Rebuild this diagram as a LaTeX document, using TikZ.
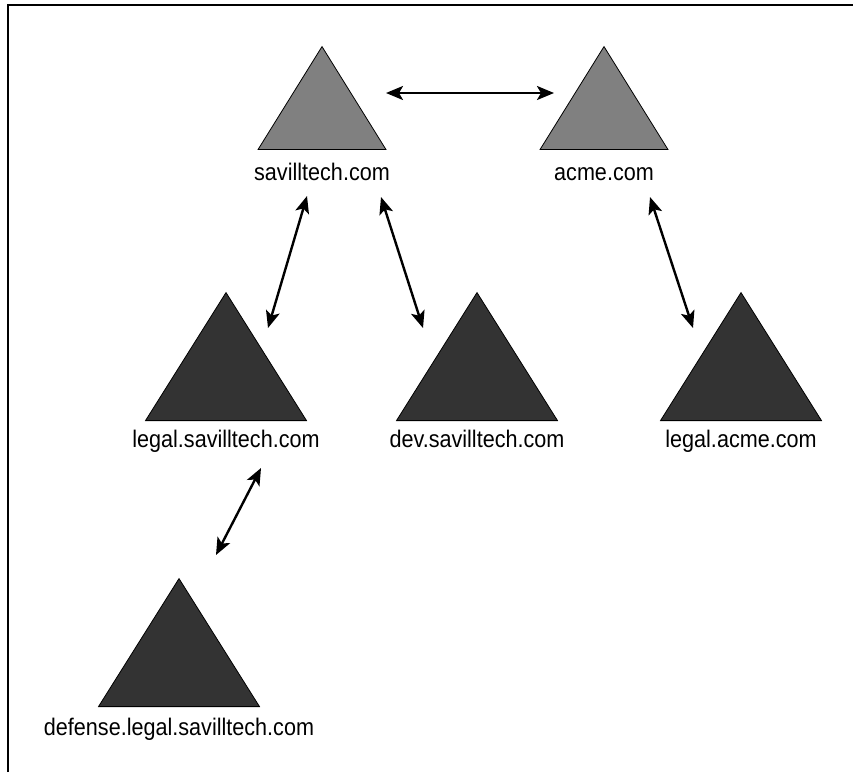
\documentclass[tikz,border=0pt]{standalone}
\usepackage{fontspec}
\setmainfont{Liberation Sans}[FakeStretch=0.9]
\usepackage{tikz}
\usetikzlibrary{calc, arrows.meta, positioning, shapes.geometric}

\tikzset{
  dombox/.style={isosceles triangle, isosceles triangle stretches, shape border rotate=90,
    draw=black, line width=0.8pt, inner sep=0pt, anchor=south},
  rootdom/.style={dombox, fill=black!50, minimum width=128pt, minimum height=103pt},
  childdom/.style={dombox, fill=black!80, minimum width=161pt, minimum height=128pt},
  dname/.style={inner sep=0pt, text height=17pt, text depth=5pt, font=\fontsize{24pt}{26pt}\selectfont},
  trust/.style={{Stealth[length=17pt, width=14pt, inset=4pt]}-{Stealth[length=17pt, width=14pt, inset=4pt]}, line width=2.4pt}
}

\begin{document}
\begin{tikzpicture}[x=1pt, y=-1pt]

\useasboundingbox (0,0) rectangle (853,772);

% Draw the frame
\draw[line width=1.5pt] (8,772) -- (8,5) -- (853,5);

% Draw the domains
\node[rootdom] (sav) at (322,150) {};
\node[rootdom] (acme) at (604,150) {};
\node[childdom] (legal) at (226,421) {};
\node[childdom] (dev) at (477,421) {};
\node[childdom] (lacme) at (741,421) {};
\node[childdom] (def) at (179,707) {};

% Add the domain names
\node[dname, below=13pt of sav] (savtxt) {savilltech.com};
\node[dname, below=13pt of acme] (acmetxt) {acme.com};
\node[dname, below=9pt of legal] (legaltxt) {legal.savilltech.com};
\node[dname, below=9pt of dev] (devtxt) {dev.savilltech.com};
\node[dname, below=9pt of lacme] (lacmetxt) {legal.acme.com};
\node[dname, below=11pt of def] (deftxt) {defense.legal.savilltech.com};

% Ends of the trusts
\coordinate (savE) at (386,93);
\coordinate (acmeW) at (554,93);
\coordinate (savSW) at (307,196);
\coordinate (legalNE) at (268,328);
\coordinate (savSE) at (381,197);
\coordinate (devNW) at (423,328);
\coordinate (acmeS) at (650,197);
\coordinate (lacmeNW) at (693,328);
\coordinate (legalS) at (261,468);
\coordinate (defNE) at (216,555);

% Draw the trusts
\draw[trust] (savE) -- (acmeW);
\draw[trust] (savSW) -- (legalNE);
\draw[trust] (savSE) -- (devNW);
\draw[trust] (acmeS) -- (lacmeNW);
\draw[trust] (legalS) -- (defNE);

\end{tikzpicture}
\end{document}
